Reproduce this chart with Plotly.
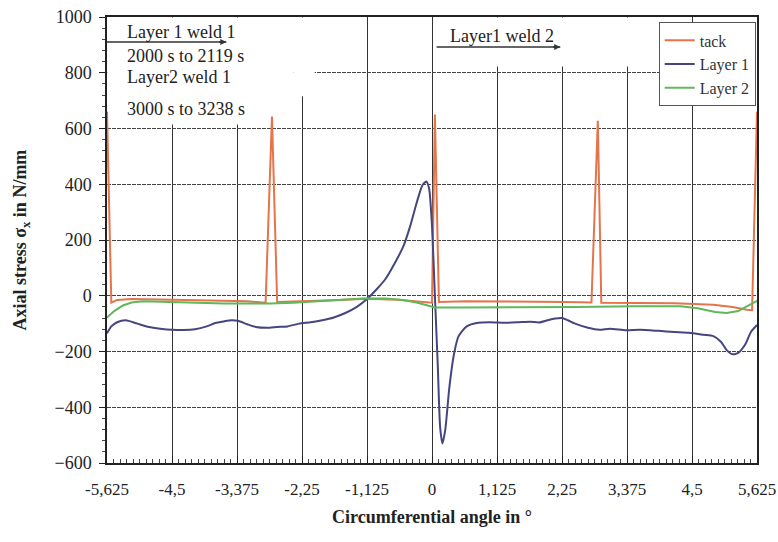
import plotly.graph_objects as go

# ---------------- data ----------------
tick_vals = [-5.625, -4.5, -3.375, -2.25, -1.125, 0, 1.125, 2.25, 3.375, 4.5, 5.625]
tick_text = ["-5,625", "-4,5", "-3,375", "-2,25", "-1,125", "0", "1,125", "2,25", "3,375", "4,5", "5,625"]

tack_x = [-5.625, -5.55, -5.45, -5.2, -4.5, -3.8, -3.2, -2.88, -2.77, -2.68, -2.2, -1.6, -1.125,
          -0.6, -0.3, 0.0, 0.05, 0.12, 0.6, 1.5, 2.3, 2.76, 2.87, 2.93, 3.5, 4.2, 4.87, 5.2, 5.45,
          5.54, 5.625]
tack_y = [660, -25, -15, -12, -14, -17, -20, -25, 643, -22, -20, -15, -11,
          -14, -20, -25, 650, -22, -20, -20, -22, -24, 628, -25, -25, -27, -32, -40, -50,
          -52, 660]

layer1_x = [-5.625, -5.55, -5.45, -5.3, -5.1, -4.9, -4.7, -4.5, -4.3, -4.1, -3.9, -3.75, -3.6,
            -3.47, -3.36, -3.2, -3.05, -2.85, -2.68, -2.5, -2.3, -2.1, -1.9, -1.7, -1.5, -1.3,
            -1.125, -0.95, -0.8, -0.65, -0.5, -0.38, -0.27, -0.17, -0.1, -0.05, 0.0, 0.05, 0.1,
            0.14, 0.18, 0.23, 0.3, 0.38, 0.46, 0.6, 0.8, 1.0, 1.27, 1.5, 1.7, 1.85, 2.0, 2.13,
            2.25, 2.35, 2.5, 2.7, 2.9, 3.08, 3.36, 3.6, 3.92, 4.2, 4.45, 4.7, 4.87, 5.0, 5.1, 5.2,
            5.3, 5.42, 5.52, 5.625]
layer1_y = [-135, -110, -95, -88, -100, -112, -118, -122, -123, -120, -110, -98, -92,
            -88, -90, -102, -112, -115, -112, -110, -100, -95, -88, -78, -62, -40,
            -12, 25, 62, 115, 175, 248, 330, 395, 410, 385, 250, 0, -250,
            -470, -530, -480, -330, -210, -145, -110, -97, -95, -97, -95, -93, -96, -88, -82,
            -80, -88, -102, -115, -122, -118, -124, -122, -126, -130, -133, -140, -145, -165, -195, -210,
            -205, -175, -130, -105]

layer2_x = [-5.625, -5.5, -5.35, -5.2, -5.0, -4.7, -4.4, -4.0, -3.6, -3.2, -2.8, -2.4, -2.0,
            -1.6, -1.2, -0.8, -0.5, -0.25, -0.05, 0.05, 0.5, 1.5, 2.5, 3.5, 4.3, 4.6, 4.9, 5.1,
            5.3, 5.45, 5.6, 5.625]
layer2_y = [-78, -55, -35, -24, -20, -22, -24, -26, -28, -28, -28, -25, -20,
            -15, -10, -10, -15, -25, -38, -42, -42, -42, -40, -38, -38, -45, -58, -62,
            -55, -38, -20, -18]

FONT = "Liberation Serif"

fig = go.Figure()
fig.add_trace(go.Scatter(x=tack_x, y=tack_y, mode="lines", name="tack",
                         line=dict(color="#e4744c", width=2)))
fig.add_trace(go.Scatter(x=layer1_x, y=layer1_y, mode="lines", name="Layer 1",
                         line=dict(color="#45467f", width=2, shape="spline", smoothing=0.6)))
fig.add_trace(go.Scatter(x=layer2_x, y=layer2_y, mode="lines", name="Layer 2",
                         line=dict(color="#5fb85a", width=2)))

# white areas hiding the grid behind the text notes
white = dict(type="rect", xref="x", yref="y", fillcolor="white", line=dict(width=0), layer="between")
fig.add_shape(x0=-5.62, x1=-2.4, y0=614, y1=998, **white)
fig.add_shape(x0=-2.4, x1=-2.03, y0=716, y1=998, **white)
fig.add_shape(x0=0.1, x1=4.3, y0=822, y1=998, **white)

ann_font = dict(family=FONT, size=18, color="#222")
notes = [
    ("Layer 1 weld 1", -5.31, 946),
    ("2000 s to 2119 s", -5.31, 860),
    ("Layer2 weld 1", -5.31, 784),
    ("3000 s to 3238 s", -5.31, 669),
    ("Layer1 weld 2", 0.27, 932),
]
for txt, xx, yy in notes:
    fig.add_annotation(x=xx, y=yy, text=txt, showarrow=False, xanchor="left", yanchor="middle",
                       font=ann_font)

# underline arrows (lines with arrow heads)
arrows = [(-5.625, -3.56, 910), (0.08, 2.22, 892)]
for x0, x1, yy in arrows:
    fig.add_shape(type="line", xref="x", yref="y", x0=x0, x1=x1, y0=yy, y1=yy,
                  line=dict(color="#333", width=1.5))
    fig.add_annotation(x=x1, y=yy, ax=x1 - 0.15, ay=yy, axref="x", ayref="y", xref="x", yref="y",
                       text="", showarrow=True, arrowhead=2, arrowsize=0.8, arrowwidth=1.5,
                       arrowcolor="#333")

fig.update_layout(
    width=778, height=542,
    margin=dict(l=107, r=21, t=17, b=79, autoexpand=False),
    paper_bgcolor="white", plot_bgcolor="white",
    font=dict(family=FONT, size=18, color="#222"),
    showlegend=True,
    legend=dict(x=0.998, xanchor="right", y=0.988, yanchor="top", bgcolor="white",
                bordercolor="#555", borderwidth=1, font=dict(family=FONT, size=16, color="#333"),
                itemwidth=30, tracegroupgap=0),
    xaxis=dict(
        range=[-5.625, 5.625], tickmode="array", tickvals=tick_vals, ticktext=tick_text,
        automargin=False, tickfont=dict(size=17), ticklabeloverflow="allow",
        showgrid=True, gridcolor="#333", gridwidth=1, zeroline=False,
        showline=True, linecolor="#222", linewidth=1.5, mirror=True,
        ticks="inside", ticklen=7, tickcolor="#222", ticklabelstandoff=10,
        minor=dict(tickmode="linear", tick0=-5.625, dtick=0.1125, ticks="inside", ticklen=4,
                   tickcolor="#444", showgrid=False),
        title=dict(text="<b>Circumferential angle in °</b>", font=dict(family=FONT, size=18),
                   standoff=12),
    ),
    yaxis=dict(
        range=[-600, 1000], tickmode="linear", tick0=-600, dtick=200,
        automargin=False, ticklabeloverflow="allow",
        showgrid=True, gridcolor="#444", gridwidth=1, griddash="4px,1px", zeroline=False,
        showline=True, linecolor="#222", linewidth=1.5, mirror=True,
        ticks="outside", ticklen=6, tickcolor="#222", ticklabelstandoff=4,
        minor=dict(tickmode="linear", tick0=-600, dtick=40, ticks="outside", ticklen=3,
                   tickcolor="#444", showgrid=False),
        title=dict(text="<b>Axial stress σ<sub>x</sub> in N/mm</b>", font=dict(family=FONT, size=18),
                   standoff=23),
    ),
)

fig.write_html("out.html", config={"displayModeBar": False},
               post_script="document.body.style.margin='0';document.body.style.overflow='hidden';")
